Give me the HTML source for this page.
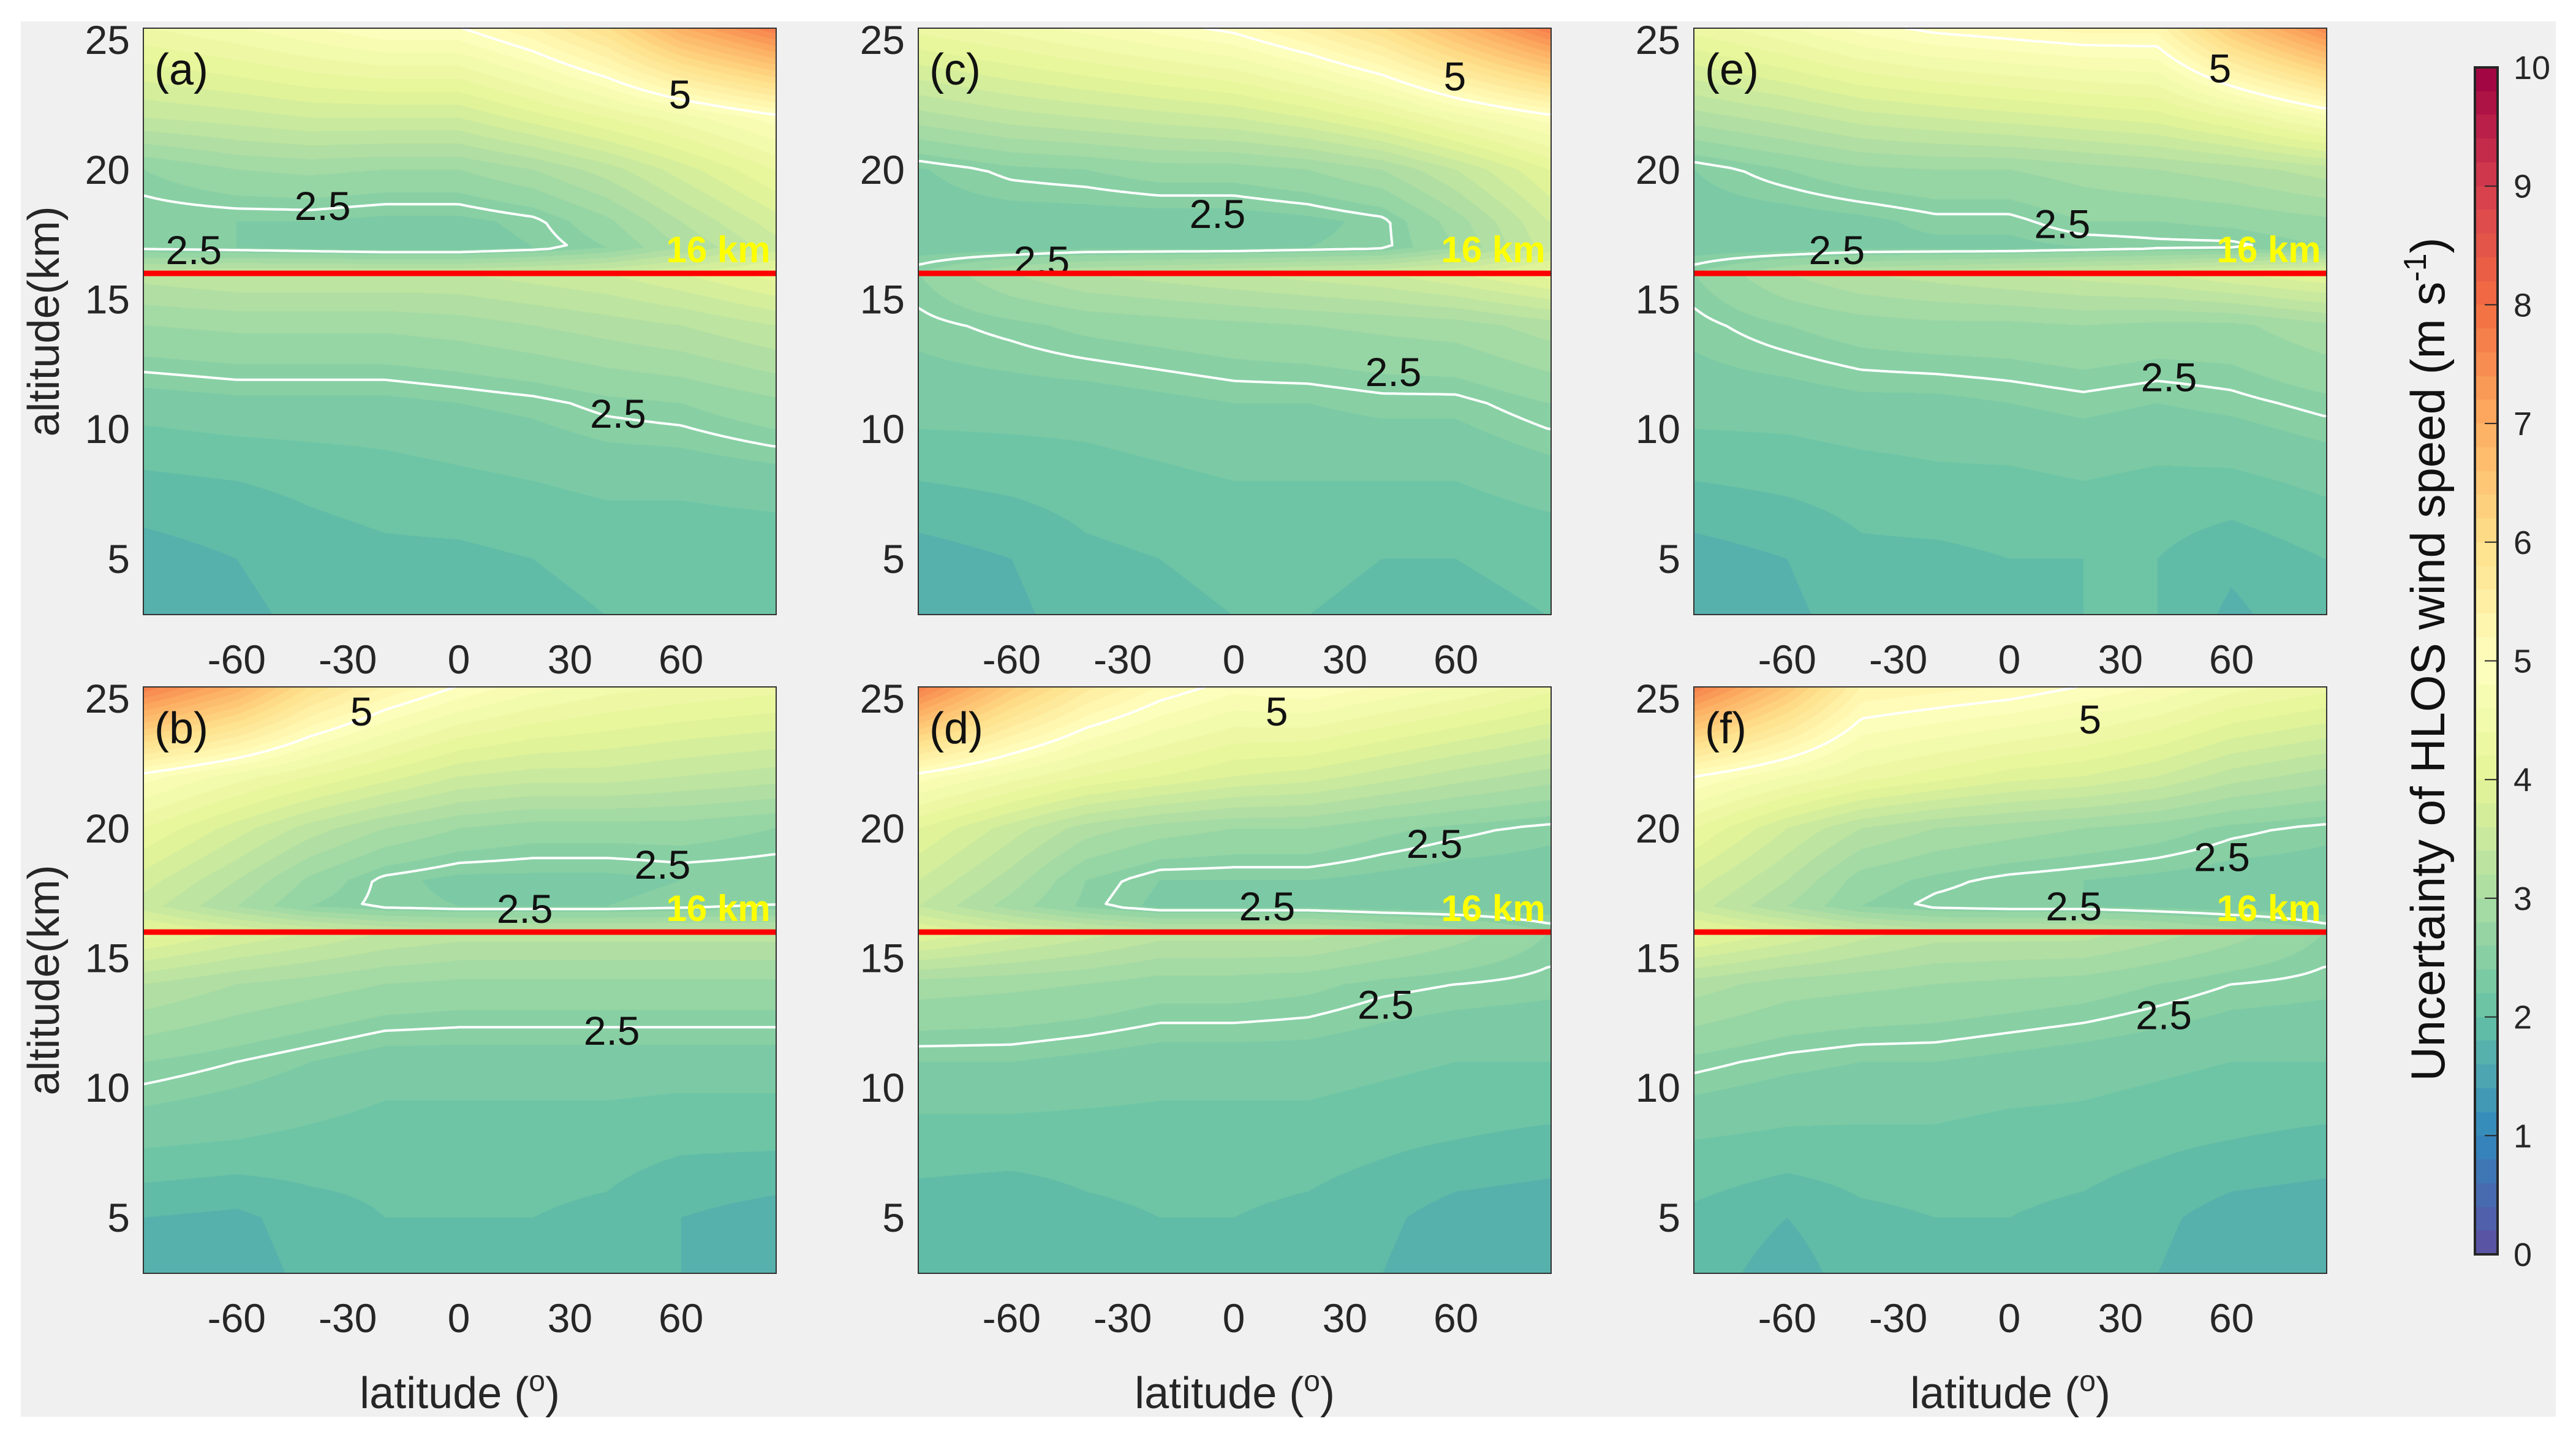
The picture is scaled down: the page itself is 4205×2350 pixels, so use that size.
<!DOCTYPE html>
<html><head><meta charset="utf-8">
<style>
html,body{margin:0;padding:0;background:#fff;}
#root{position:relative;width:4205px;height:2350px;overflow:hidden;background:#fff;font-family:"Liberation Sans",sans-serif;}
#bg{position:absolute;left:34px;top:35px;width:4138px;height:2277px;background:#f0f0f0;}
canvas{position:absolute;}
#ov{position:absolute;left:0;top:0;}
</style></head>
<body>
<div id="root">
<div id="bg"></div>
<canvas id="cbar" width="37" height="1937" style="left:4040px;top:110px"></canvas>
<svg id="ov" width="4205" height="2350" xmlns="http://www.w3.org/2000/svg"></svg>
</div>
<script>
// ---- data ----
const lats = [-85,-60,-40,-20,0,20,40,60,85];
const alts = [2.8,5,8,11,14,16,17,18,20,22,25.5];
const panelLetters = ['a','b','c','d','e','f'];
const gridA = [
[1.6,1.75,1.85,1.9,1.85,1.95,2.0,2.0,2.0],
[1.7,1.8,1.9,1.95,1.95,2.0,2.05,2.05,2.05],
[1.95,2.0,2.05,2.1,2.15,2.2,2.25,2.25,2.3],
[2.3,2.35,2.35,2.35,2.4,2.45,2.55,2.6,2.75],
[2.8,2.85,2.85,2.85,2.9,3.0,3.1,3.2,3.4],
[3.3,3.4,3.4,3.4,3.4,3.5,3.6,3.8,4.1],
[2.45,2.4,2.35,2.3,2.3,2.4,2.6,3.0,3.5],
[2.4,2.4,2.4,2.35,2.35,2.45,2.75,3.2,3.7],
[2.6,2.8,2.85,2.8,2.8,3.0,3.3,3.7,4.2],
[3.4,3.5,3.6,3.6,3.6,3.9,4.2,4.5,4.9],
[4.4,4.6,4.8,5.0,5.0,5.4,6.0,7.0,7.8]];
const gridB = [
[1.75,1.7,1.85,1.95,1.95,1.95,1.9,1.8,1.65],
[1.8,1.75,1.9,2.0,2.0,2.0,1.95,1.8,1.7],
[2.25,2.2,2.15,2.1,2.1,2.1,2.1,2.05,2.05],
[2.6,2.5,2.4,2.3,2.3,2.3,2.3,2.3,2.3],
[3.2,3.0,2.9,2.8,2.75,2.75,2.75,2.75,2.75],
[4.1,3.8,3.6,3.4,3.3,3.3,3.3,3.3,3.3],
[3.5,3.0,2.6,2.45,2.4,2.4,2.4,2.45,2.5],
[3.7,3.2,2.75,2.45,2.35,2.35,2.35,2.4,2.4],
[4.2,3.7,3.3,3.0,2.8,2.7,2.7,2.7,2.6],
[4.9,4.5,4.2,3.9,3.6,3.5,3.5,3.4,3.3],
[7.8,7.0,6.0,5.4,5.0,4.7,4.5,4.4,4.3]];
const gridC = [
[1.65,1.75,1.9,1.95,2.0,2.0,1.95,1.95,2.0],
[1.7,1.8,1.95,2.0,2.05,2.05,2.0,2.0,2.05],
[2.0,2.05,2.1,2.15,2.2,2.2,2.2,2.2,2.3],
[2.3,2.3,2.3,2.35,2.4,2.4,2.45,2.45,2.6],
[2.45,2.55,2.65,2.7,2.75,2.8,2.85,2.9,3.1],
[2.6,3.0,3.2,3.3,3.4,3.5,3.6,3.8,4.1],
[2.3,2.3,2.35,2.35,2.35,2.4,2.45,2.8,3.5],
[2.3,2.3,2.3,2.3,2.3,2.35,2.45,2.9,3.6],
[2.38,2.55,2.6,2.7,2.7,2.8,3.0,3.4,4.0],
[3.1,3.3,3.4,3.5,3.6,3.8,4.1,4.5,4.9],
[4.3,4.5,4.7,4.9,5.1,5.5,6.0,6.8,7.8]];
const gridD = [
[1.85,1.8,1.9,1.95,2.0,1.9,1.8,1.65,1.6],
[1.9,1.85,1.95,2.0,2.0,1.95,1.85,1.7,1.65],
[2.1,2.1,2.1,2.1,2.1,2.1,2.05,2.0,1.95],
[2.4,2.4,2.35,2.3,2.3,2.3,2.25,2.2,2.2],
[2.9,2.85,2.8,2.7,2.7,2.65,2.55,2.5,2.45],
[4.0,3.7,3.5,3.3,3.3,3.3,3.1,2.9,2.6],
[3.4,2.9,2.55,2.35,2.35,2.35,2.3,2.3,2.3],
[3.6,3.1,2.6,2.4,2.4,2.4,2.35,2.3,2.3],
[4.0,3.5,3.1,2.9,2.8,2.8,2.65,2.55,2.45],
[4.9,4.5,4.2,4.0,3.8,3.7,3.5,3.3,3.1],
[7.8,6.5,5.7,5.2,4.9,5.0,4.8,4.6,4.3]];
const gridE = [
[1.65,1.75,1.9,1.9,1.95,2.0,2.0,1.75,1.95],
[1.7,1.8,1.95,1.95,2.0,2.0,2.0,1.85,2.0],
[2.0,2.05,2.1,2.15,2.15,2.2,2.15,2.15,2.25],
[2.3,2.3,2.35,2.35,2.4,2.45,2.4,2.45,2.55],
[2.45,2.6,2.7,2.75,2.75,2.8,2.75,2.75,2.95],
[2.6,3.0,3.2,3.3,3.4,3.5,3.6,3.8,4.0],
[2.3,2.3,2.35,2.35,2.35,2.4,2.45,2.45,2.6],
[2.3,2.3,2.35,2.45,2.45,2.6,2.6,2.65,2.75],
[2.4,2.6,2.75,2.8,2.8,2.9,3.0,3.1,3.3],
[3.1,3.3,3.5,3.6,3.7,3.8,3.9,4.2,4.7],
[4.3,4.6,4.9,5.1,5.2,5.3,5.3,6.5,7.6]];
const gridF = [
[1.9,1.7,1.9,1.95,1.95,1.9,1.8,1.65,1.6],
[1.95,1.8,1.95,2.0,2.0,1.95,1.85,1.7,1.65],
[2.2,2.15,2.15,2.15,2.1,2.1,2.05,2.0,1.95],
[2.55,2.45,2.4,2.4,2.35,2.3,2.25,2.2,2.2],
[3.1,2.9,2.85,2.8,2.75,2.7,2.6,2.5,2.45],
[4.1,3.8,3.5,3.3,3.3,3.3,3.1,2.9,2.6],
[3.5,3.0,2.6,2.45,2.4,2.4,2.35,2.3,2.3],
[3.7,3.2,2.7,2.55,2.45,2.4,2.35,2.3,2.3],
[4.2,3.6,3.2,3.0,2.9,2.8,2.7,2.55,2.45],
[5.0,4.6,4.3,4.1,3.9,3.8,3.6,3.3,3.1],
[7.8,6.6,5.4,5.3,5.2,5.0,4.8,4.5,4.3]];
const grids = [gridA,gridB,gridC,gridD,gridE,gridF];
const contourLevels = [2.5,5];
const labelsA = [[59.7,22.9,'5'],[-36.8,18.6,'2.5'],[-71.6,16.9,'2.5'],[43,10.6,'2.5']];
const labelsB = [[-26.3,24.5,'5'],[55,18.6,'2.5'],[17.8,16.9,'2.5'],[41.3,12.2,'2.5']];
const labelsC = [[59.7,23.6,'5'],[-4.4,18.3,'2.5'],[-51.9,16.5,'2.5'],[43.1,12.2,'2.5']];
const labelsD = [[11.6,24.5,'5'],[54.2,19.4,'2.5'],[9,17,'2.5'],[41,13.2,'2.5']];
const labelsE = [[56.9,23.9,'5'],[14.3,17.9,'2.5'],[-46.6,16.9,'2.5'],[43.1,12.0,'2.5']];
const labelsF = [[21.8,24.2,'5'],[57.4,18.9,'2.5'],[17.4,17.0,'2.5'],[41.7,12.8,'2.5']];
const labels = [labelsA,labelsB,labelsC,labelsD,labelsE,labelsF];
const xTicks = [-60,-30,0,30,60];
const yTicks = [5,10,15,20,25];
const cbTicks = [0,1,2,3,4,5,6,7,8,9,10];
const refAlt = 16;

// ---- layout ----
const colX = [234,1499,2765], rowY = [46,1121];
const PW = 1033, PH = 957;
const LAT0=-85.2, LAT1=85.7, ALT0=2.85, ALT1=25.45;
const spectral = [[94,79,162],[50,136,189],[102,194,165],[171,221,164],[230,245,152],[255,255,191],[254,224,139],[253,174,97],[244,109,67],[213,62,79],[158,1,66]];
function cmap(v){
  v=Math.max(0,Math.min(10,v));
  const i=Math.min(9,Math.floor(v)), t=v-i;
  const a=spectral[i], b=spectral[i+1];
  return [a[0]+(b[0]-a[0])*t, a[1]+(b[1]-a[1])*t, a[2]+(b[2]-a[2])*t];
}
function seg(arr,v){
  let i=0; while(i<arr.length-2 && v>arr[i+1]) i++;
  let t=(v-arr[i])/(arr[i+1]-arr[i]); t=Math.max(0,Math.min(1,t));
  return [i,t];
}
function interp(g,lat,alt){
  const [i,tx]=seg(lats,lat), [j,ty]=seg(alts,alt);
  const a=g[j][i],b=g[j][i+1],c=g[j+1][i],d=g[j+1][i+1];
  return (a*(1-tx)+b*tx)*(1-ty)+(c*(1-tx)+d*tx)*ty;
}
const sx = X => (X-LAT0)/(LAT1-LAT0)*PW;
const sy = A => (ALT1-A)/(ALT1-ALT0)*PH;
const NS='http://www.w3.org/2000/svg';
const svg=document.getElementById('ov');
function mk(tag,attrs,parent,text){
  const e=document.createElementNS(NS,tag);
  for(const k in attrs) e.setAttribute(k,attrs[k]);
  if(text!==undefined) e.textContent=text;
  (parent||svg).appendChild(e); return e;
}
const STEP=0.2;
const root=document.getElementById('root');

grids.forEach((g,p)=>{
  const col=Math.floor(p/2), row=p%2;
  const X0=colX[col], Y0=rowY[row];
  const cv=document.createElement('canvas');
  cv.width=PW; cv.height=PH;
  cv.style.left=X0+'px'; cv.style.top=Y0+'px';
  
  
  root.insertBefore(cv, svg);
  const ctx=cv.getContext('2d');
  const img=ctx.createImageData(PW,PH);
  for(let y=0;y<PH;y++){
    const alt=ALT1-(y+0.5)/PH*(ALT1-ALT0);
    for(let x=0;x<PW;x++){
      const lat=LAT0+(x+0.5)/PW*(LAT1-LAT0);
      let v=interp(g,lat,alt);
      v=(Math.floor(v/STEP)+0.5)*STEP;
      const c=cmap(v), k=(y*PW+x)*4;
      img.data[k]=c[0];img.data[k+1]=c[1];img.data[k+2]=c[2];img.data[k+3]=255;
    }
  }
  ctx.putImageData(img,0,0);

  const grp=mk('g',{transform:`translate(${X0},${Y0})`});
  
  

  const N=6;
  const nx=Math.ceil(PW/N), ny=Math.ceil(PH/N);
  const vals=[];
  for(let j=0;j<=ny;j++){const r=[];for(let i=0;i<=nx;i++){
    const px=Math.min(PW,i*N), py=Math.min(PH,j*N);
    r.push(interp(g,LAT0+px/PW*(LAT1-LAT0),ALT1-py/PH*(ALT1-ALT0)));}vals.push(r);}
  contourLevels.forEach(L=>{
    let d='';
    for(let j=0;j<ny;j++)for(let i=0;i<nx;i++){
      const x0=i*N,x1=Math.min(PW,(i+1)*N),y0=j*N,y1=Math.min(PH,(j+1)*N);
      const v=[vals[j][i],vals[j][i+1],vals[j+1][i+1],vals[j+1][i]];
      const pts=[[x0,y0],[x1,y0],[x1,y1],[x0,y1]];
      const cr=[];
      for(let e=0;e<4;e++){
        const a=v[e],b=v[(e+1)%4];
        if((a<L)!==(b<L)){
          const t=(L-a)/(b-a),P=pts[e],Q=pts[(e+1)%4];
          cr.push([P[0]+(Q[0]-P[0])*t,P[1]+(Q[1]-P[1])*t]);
        }
      }
      for(let k=0;k+1<cr.length;k+=2)
        d+=`M${cr[k][0].toFixed(1)} ${cr[k][1].toFixed(1)}L${cr[k+1][0].toFixed(1)} ${cr[k+1][1].toFixed(1)}`;
    }
    const pth=mk('path',{d:d,stroke:'#fff','stroke-width':4,fill:'none','stroke-linecap':'round'},grp);
    
    
  });
  labels[p].forEach(l=>{
    const t=mk('text',{x:sx(l[0]),y:sy(l[1])+23,'font-size':66,'text-anchor':'middle',fill:'#111'},grp,l[2]);
    
    
  });
  const rl=mk('line',{x1:0,x2:PW,y1:sy(refAlt),y2:sy(refAlt),stroke:'#f00','stroke-width':9},grp);
  
  
  const rt=mk('text',{x:sx(56),y:sy(refAlt)-18,'font-size':60,'font-weight':'bold',fill:'#ffff00'},grp,'16 km');
  
  
  const bx=mk('rect',{x:0,y:0,width:PW,height:PH,fill:'none',stroke:'#333','stroke-width':2},grp);
  
  
  const pl=mk('text',{x:18,y:92,'font-size':72,fill:'#111'},grp,'('+panelLetters[p]+')');
  
  
  yTicks.forEach(v=>{
    const t=mk('text',{x:-22,y:sy(v)+23,'font-size':66,'text-anchor':'end',fill:'#262626'},grp,String(v));
    
    
  });
  xTicks.forEach(v=>{
    const t=mk('text',{x:sx(v),y:PH+96,'font-size':66,'text-anchor':'middle',fill:'#262626'},grp,String(v));
    
    
  });
  if(col===0){
    const yl=mk('text',{transform:`translate(${72-X0+24},${PH/2}) rotate(-90)`,'font-size':72,'text-anchor':'middle',fill:'#262626'},grp,'altitude(km)');
    
    
  }
  if(row===1){
    const xl=mk('text',{x:PW/2,y:PH+220,'font-size':72,'text-anchor':'middle',fill:'#262626'},grp);
    
    
    mk('tspan',{},xl,'latitude (');
    mk('tspan',{dy:-28,'font-size':48},xl,'o');
    mk('tspan',{dy:28},xl,')');
  }
});

(function(){
  const c=document.getElementById('cbar'),ctx=c.getContext('2d');
  const H=c.height;
  for(let y=0;y<H;y++){
    let v=10-(y+0.5)/H*10; v=(Math.floor(v/STEP)+0.5)*STEP;
    const col=cmap(v);
    ctx.fillStyle=`rgb(${col[0]|0},${col[1]|0},${col[2]|0})`;
    ctx.fillRect(0,y,c.width,1);
  }
  const g=mk('g',{});
  
  
  mk('rect',{x:4040,y:110,width:37,height:1937,fill:'none',stroke:'#262626','stroke-width':4},g);
  cbTicks.forEach(v=>{
    const y=2047-v/10*1937;
    mk('line',{x1:4056,x2:4077,y1:y,y2:y,stroke:'#262626','stroke-width':2},g);
    const t=mk('text',{x:4103,y:y+19,'font-size':54,fill:'#262626'},g,String(v));
    
    
  });
  const tt=mk('text',{transform:'translate(3990,1076) rotate(-90)','font-size':78,'text-anchor':'middle',fill:'#111'},g);
  
  
  mk('tspan',{},tt,'Uncertainty of HLOS wind speed (m s');
  mk('tspan',{dy:-30,'font-size':52},tt,'-1');
  mk('tspan',{dy:30},tt,')');
})();
</script>
</body></html>
